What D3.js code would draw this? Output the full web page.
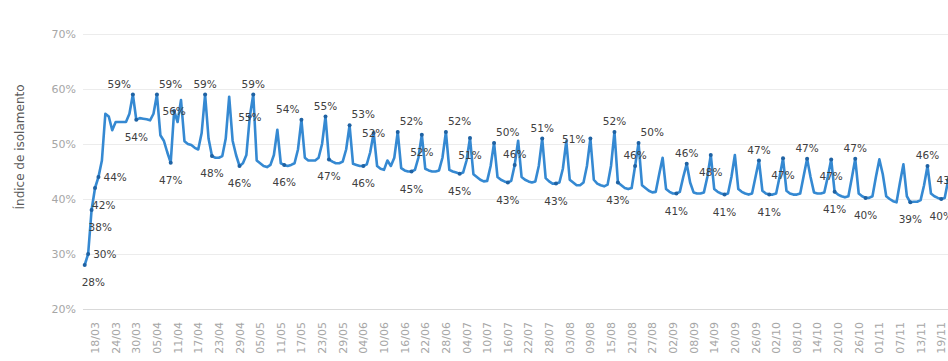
<!DOCTYPE html>
<meta charset="utf-8">
<body>
<style>
  body { margin: 0; overflow: hidden; background: #fff; }
  svg { display: block; }
  .grade line { stroke: #ececec; stroke-width: 1px; }
  .eixo line { stroke: #d9d9d9; stroke-width: 1px; }
  .tick-y, .tick-x { font: 11px "DejaVu Sans", sans-serif; fill: #a6a6a6; }
  .titulo-y { font: 12px "DejaVu Sans", sans-serif; fill: #595959; }
  .linha { fill: none; stroke: #3589d2; stroke-width: 2.6px; stroke-linejoin: round; }
  .marca { fill: #1f62a3; }
  .rotulo { font: 10.5px "DejaVu Sans", sans-serif; fill: #404040; }
</style>
<script src="https://cdn.jsdelivr.net/npm/d3@7"></script>
<script>

var width = 948,
    height = 361;

var inicio = "2020-03-15";

// indice de isolamento diario (domingo 15/03, depois semanas de segunda a domingo)
var isolamento = [
  28,
  30, 38, 42, 44, 47, 55.5, 55,
  52.5, 54, 54, 54, 54, 55.5, 59,
  54.4, 54.7, 54.6, 54.5, 54.3, 55.5, 59,
  51.6, 50.6, 48.5, 46.6, 56, 54, 58,
  50.5, 50, 49.8, 49.3, 49, 52, 59,
  51, 47.8, 47.5, 47.5, 47.8, 51, 58.6,
  50.6, 48, 46, 46.5, 48, 55, 59,
  47, 46.5, 46, 45.8, 46.2, 48, 52.6,
  46.5, 46.2, 46, 46.2, 46.5, 49, 54.4,
  47.5, 47, 47, 47, 47.5, 50, 55,
  47.2, 46.8, 46.5, 46.5, 46.8, 49, 53.4,
  46.4, 46.2, 46, 46, 46.3, 48.5, 52,
  46, 45.5, 45.3, 47, 46, 47.5, 52.2,
  45.6, 45.2, 45, 45, 45.3, 47.5, 51.7,
  45.5, 45.2, 45, 45, 45.2, 47.5, 52.2,
  45.3, 45, 44.8, 44.6, 44.8, 47, 51.1,
  44.5, 44, 43.5, 43.2, 43.3, 46, 50.2,
  44, 43.5, 43.2, 43, 43.3, 46.2, 50.6,
  44, 43.5, 43.2, 43, 43.2, 46, 51,
  43.8, 43.2, 42.8, 42.8, 43, 45.5, 50.5,
  43.5, 43, 42.5, 42.5, 43, 46, 51,
  43.5, 42.8, 42.5, 42.3, 42.6, 46, 52.2,
  43, 42.5, 42, 41.8, 42, 46, 50.2,
  42.5, 42, 41.5, 41.2, 41.3, 44.5, 47.5,
  41.8, 41.3, 41, 41, 41.3, 44, 46.4,
  43, 41.2, 41, 41, 41.2, 44, 48,
  41.8, 41.3, 41, 40.8, 41, 44, 48,
  41.8, 41.3, 41, 40.8, 41, 44, 47,
  41.5, 41, 40.8, 40.8, 41, 44, 47.4,
  41.5, 41, 40.8, 40.8, 41, 44.2, 47.3,
  44, 41.2, 41, 41, 41.2, 44, 47.2,
  41.3, 40.8, 40.5, 40.3, 40.5, 43.8, 47.3,
  41, 40.5, 40.2, 40.2, 40.5, 44, 47.2,
  44.5, 40.5, 40, 39.6, 39.4, 43, 46.3,
  40.5, 39.4, 39.5, 39.5, 39.8, 42.5, 46,
  41, 40.5, 40.2, 40, 40.2, 43.4, 46
];

var rotulosX = ["18/03", "24/03", "30/03", "05/04", "11/04", "17/04", "23/04", "29/04",
  "05/05", "11/05", "17/05", "23/05", "29/05", "04/06", "10/06", "16/06", "22/06",
  "28/06", "04/07", "10/07", "16/07", "22/07", "28/07", "03/08", "09/08", "15/08",
  "21/08", "27/08", "02/09", "08/09", "14/09", "20/09", "26/09", "02/10", "08/10",
  "14/10", "20/10", "26/10", "01/11", "07/11", "13/11", "19/11"];

var ticksY = [20, 30, 40, 50, 60, 70];

// dias com rotulo de dado e onde o rotulo fica
var rotulos = [
  ["15/03", "br"], ["16/03", "r"], ["17/03", "br"], ["18/03", "br"], ["19/03", "r"],
  ["29/03", "tl"], ["05/04", "tr"], ["30/03", "b"], ["09/04", "b"], ["10/04", "c"],
  ["19/04", "t"], ["21/04", "b"], ["29/04", "b"], ["02/05", "c"], ["03/05", "t"],
  ["12/05", "b"], ["17/05", "tl"], ["24/05", "t"], ["25/05", "b"], ["31/05", "tr"],
  ["04/06", "b"], ["07/06", "c"], ["14/06", "tr"], ["18/06", "b"], ["21/06", "b"],
  ["28/06", "tr"], ["02/07", "b"], ["05/07", "b"], ["12/07", "tr"], ["16/07", "b"],
  ["18/07", "t"], ["26/07", "t"], ["30/07", "b"], ["09/08", "l"], ["16/08", "t"],
  ["17/08", "b"], ["22/08", "t"], ["23/08", "tr"], ["03/09", "b"], ["06/09", "t"],
  ["13/09", "b"], ["17/09", "b"], ["27/09", "t"], ["30/09", "b"], ["04/10", "b"],
  ["11/10", "t"], ["18/10", "b"], ["19/10", "b"], ["25/10", "t"], ["28/10", "b"],
  ["10/11", "b"], ["15/11", "t"], ["19/11", "b"], ["21/11", "c"]
];

var parse = d3.utcParse("%Y-%m-%d"),
    fmt = d3.utcFormat("%d/%m"),
    t0 = parse(inicio);

var data = isolamento.map(function(v, i) {
  return {"dia": fmt(d3.utcDay.offset(t0, i)), "v": v};
});
var porDia = {};
data.forEach(function(d) { porDia[d.dia] = d; });

var passo = 3.44, x0 = 84.7;
var x = d3.scalePoint()
  .domain(data.map(function(d) { return d.dia; }))
  .range([x0, x0 + passo * (data.length - 1)]);

var y = d3.scaleLinear().domain([20, 70]).range([309, 34]);

var svg = d3.select("body").append("svg")
  .attr("width", width)
  .attr("height", height);

// grade horizontal
svg.append("g").attr("class", "grade")
  .selectAll("line")
  .data(ticksY.filter(function(t) { return t > 20; }))
  .enter().append("line")
  .attr("x1", x0 - passo / 2).attr("x2", width)
  .attr("y1", function(d) { return Math.round(y(d)) + 0.5; })
  .attr("y2", function(d) { return Math.round(y(d)) + 0.5; });

svg.append("g").attr("class", "eixo")
  .append("line")
  .attr("x1", x0 - passo / 2).attr("x2", width)
  .attr("y1", Math.round(y(20)) + 0.5).attr("y2", Math.round(y(20)) + 0.5);

svg.append("g")
  .selectAll("text")
  .data(ticksY)
  .enter().append("text")
  .attr("class", "tick-y")
  .attr("x", 76)
  .attr("y", function(d) { return y(d) + 4; })
  .attr("text-anchor", "end")
  .text(function(d) { return d + "%"; });

svg.append("g")
  .selectAll("text")
  .data(rotulosX)
  .enter().append("text")
  .attr("class", "tick-x")
  .attr("text-anchor", "end")
  .attr("transform", function(d) {
    return "translate(" + (x(d) + 4) + ",322) rotate(-90)";
  })
  .text(function(d) { return d; });

svg.append("text")
  .attr("class", "titulo-y")
  .attr("text-anchor", "middle")
  .attr("transform", "translate(24,147) rotate(-90)")
  .text("Índice de isolamento");

var linha = d3.line()
  .x(function(d) { return x(d.dia); })
  .y(function(d) { return y(d.v); });

svg.append("path")
  .datum(data)
  .attr("class", "linha")
  .attr("d", linha);

function posicao(p, px, py) {
  if (p == "t") return [px, py - 7, "middle"];
  if (p == "b") return [px, py + 21, "middle"];
  if (p == "c") return [px, py + 4, "middle"];
  if (p == "r") return [px + 5, py + 4, "start"];
  if (p == "l") return [px - 5, py + 4, "end"];
  if (p == "tl") return [px - 2, py - 7, "end"];
  if (p == "tr") return [px + 2, py - 7, "start"];
  if (p == "br") return [px - 3, py + 21, "start"];
}

var marcados = rotulos.map(function(r) {
  var d = porDia[r[0]];
  return {"d": d, "p": r[1]};
});

svg.append("g")
  .selectAll("circle")
  .data(marcados)
  .enter().append("circle")
  .attr("class", "marca")
  .attr("cx", function(m) { return x(m.d.dia); })
  .attr("cy", function(m) { return y(m.d.v); })
  .attr("r", 2);

svg.append("g")
  .selectAll("text")
  .data(marcados)
  .enter().append("text")
  .attr("class", "rotulo")
  .each(function(m) {
    var p = posicao(m.p, x(m.d.dia), y(m.d.v));
    d3.select(this)
      .attr("x", p[0])
      .attr("y", p[1])
      .attr("text-anchor", p[2]);
  })
  .text(function(m) { return Math.round(m.d.v) + "%"; });

</script>
</body>
